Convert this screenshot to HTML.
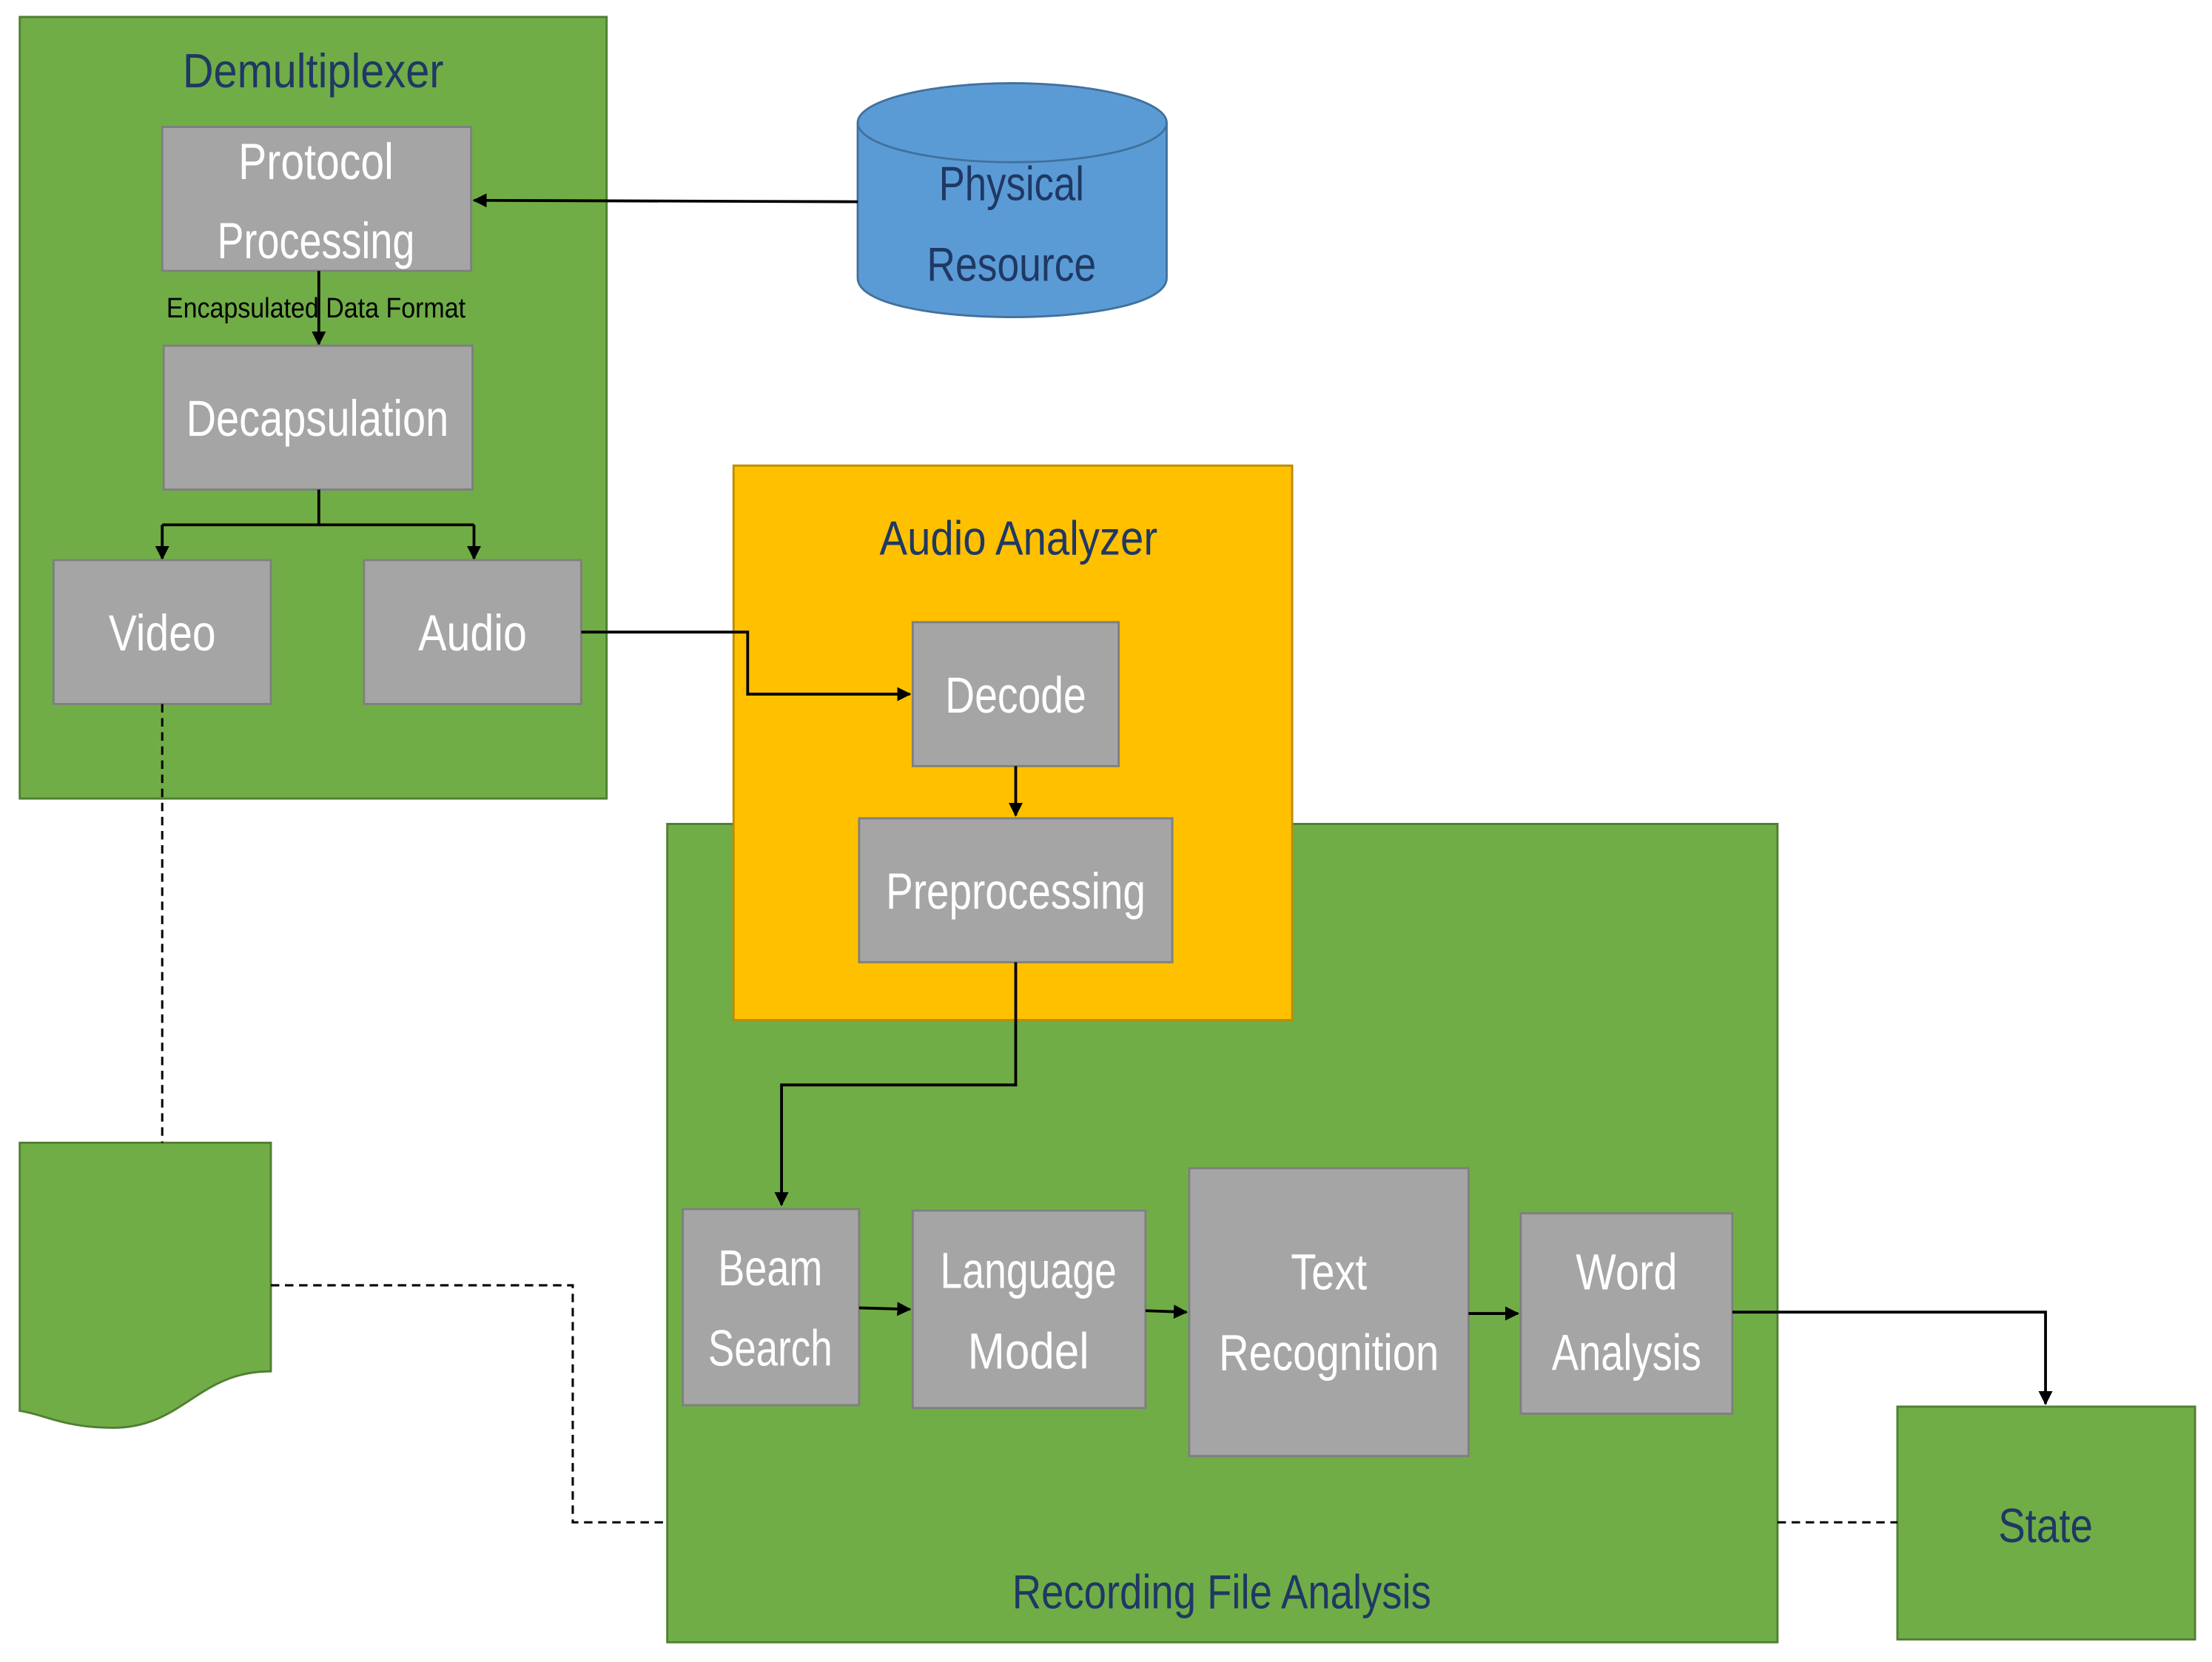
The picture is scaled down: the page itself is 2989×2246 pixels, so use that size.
<!DOCTYPE html>
<html><head><meta charset="utf-8"><style>
html,body{margin:0;padding:0;background:#fff;width:2989px;height:2246px;overflow:hidden}
svg{display:block}
text{font-family:"Liberation Sans Narrow","Liberation Sans",sans-serif}
.g{fill:#70ad47;stroke:#507e32;stroke-width:1.5}
.b{fill:#a5a5a5;stroke:#7f7f7f;stroke-width:1.5}
.w{fill:#fff;font-size:36px;text-anchor:middle}
.n{fill:#1f3864;font-size:34px;text-anchor:middle}
.l{stroke:#000;stroke-width:2;fill:none}
.d{stroke:#000;stroke-width:1.6;fill:none;stroke-dasharray:6,4}
</style></head><body>
<svg width="2989" height="2246" viewBox="0 0 1568 1178" preserveAspectRatio="none">
<defs><marker id="a" markerWidth="10" markerHeight="10" refX="9" refY="5" orient="auto" markerUnits="userSpaceOnUse"><path d="M0,0 L10,5 L0,10 z" fill="#000"/></marker></defs>
<rect class="g" x="14" y="12" width="416" height="554"/>
<text class="n" x="222" y="62" textLength="185" lengthAdjust="spacingAndGlyphs">Demultiplexer</text>
<rect class="b" x="115" y="90" width="219" height="102"/>
<text class="w" x="224" y="127" textLength="110" lengthAdjust="spacingAndGlyphs">Protocol</text>
<text class="w" x="224" y="183" textLength="140" lengthAdjust="spacingAndGlyphs">Processing</text>
<line class="l" x1="226" y1="192" x2="226" y2="244" marker-end="url(#a)"/>
<text x="224" y="225" font-size="20" text-anchor="middle" fill="#000" textLength="212" lengthAdjust="spacingAndGlyphs">Encapsulated Data Format</text>
<rect class="b" x="116" y="245" width="219" height="102"/>
<text class="w" x="225" y="309" textLength="186" lengthAdjust="spacingAndGlyphs">Decapsulation</text>
<path class="l" d="M226,347 V372 M115,372 H336"/>
<line class="l" x1="115" y1="372" x2="115" y2="396" marker-end="url(#a)"/>
<line class="l" x1="336" y1="372" x2="336" y2="396" marker-end="url(#a)"/>
<rect class="b" x="38" y="397" width="154" height="102"/>
<text class="w" x="115" y="461" textLength="76" lengthAdjust="spacingAndGlyphs">Video</text>
<rect class="b" x="258" y="397" width="154" height="102"/>
<text class="w" x="335" y="461" textLength="77" lengthAdjust="spacingAndGlyphs">Audio</text>
<path d="M608,87 V197 C608,234 827,234 827,197 V87" fill="#5b9bd5" stroke="#41719c" stroke-width="1.5"/>
<ellipse cx="717.5" cy="87" rx="109.5" ry="28" fill="#5b9bd5" stroke="#41719c" stroke-width="1.5"/>
<text class="n" x="717" y="142" font-size="36" textLength="103" lengthAdjust="spacingAndGlyphs">Physical</text>
<text class="n" x="717" y="199" font-size="36" textLength="120" lengthAdjust="spacingAndGlyphs">Resource</text>
<line class="l" x1="608" y1="143" x2="336" y2="142" marker-end="url(#a)"/>
<rect class="g" x="473" y="584" width="787" height="580"/>
<rect x="520" y="330" width="396" height="393" fill="#ffc000" stroke="#bc8c00" stroke-width="1.5"/>
<text class="n" x="722" y="393" textLength="197" lengthAdjust="spacingAndGlyphs">Audio Analyzer</text>
<rect class="b" x="647" y="441" width="146" height="102"/>
<text class="w" x="720" y="505" textLength="100" lengthAdjust="spacingAndGlyphs">Decode</text>
<rect class="b" x="609" y="580" width="222" height="102"/>
<text class="w" x="720" y="644" textLength="184" lengthAdjust="spacingAndGlyphs">Preprocessing</text>
<path class="l" d="M412,448 H530 V492 H645" marker-end="url(#a)"/>
<line class="l" x1="720" y1="543" x2="720" y2="578" marker-end="url(#a)"/>
<path class="l" d="M720,682 V769 H554 V854" marker-end="url(#a)"/>
<text class="n" x="866" y="1140" textLength="297" lengthAdjust="spacingAndGlyphs">Recording File Analysis</text>
<rect class="b" x="484" y="857" width="125" height="139"/>
<text class="w" x="546" y="911" textLength="74" lengthAdjust="spacingAndGlyphs">Beam</text>
<text class="w" x="546" y="968" textLength="88" lengthAdjust="spacingAndGlyphs">Search</text>
<rect class="b" x="647" y="858" width="165" height="140"/>
<text class="w" x="729" y="913" textLength="125" lengthAdjust="spacingAndGlyphs">Language</text>
<text class="w" x="729" y="970" textLength="86" lengthAdjust="spacingAndGlyphs">Model</text>
<rect class="b" x="843" y="828" width="198" height="204"/>
<text class="w" x="942" y="914" textLength="54" lengthAdjust="spacingAndGlyphs">Text</text>
<text class="w" x="942" y="971" textLength="156" lengthAdjust="spacingAndGlyphs">Recognition</text>
<rect class="b" x="1078" y="860" width="150" height="142"/>
<text class="w" x="1153" y="914" textLength="72" lengthAdjust="spacingAndGlyphs">Word</text>
<text class="w" x="1153" y="971" textLength="106" lengthAdjust="spacingAndGlyphs">Analysis</text>
<line class="l" x1="609" y1="927" x2="645" y2="928" marker-end="url(#a)"/>
<line class="l" x1="812" y1="929" x2="841" y2="930" marker-end="url(#a)"/>
<line class="l" x1="1041" y1="931" x2="1076" y2="931" marker-end="url(#a)"/>
<path class="l" d="M1228,930 H1450 V995" marker-end="url(#a)"/>
<rect class="g" x="1345" y="997" width="211" height="165"/>
<text class="n" x="1450" y="1093" font-size="36" textLength="67" lengthAdjust="spacingAndGlyphs">State</text>
<path class="g" d="M14,810 H192 V972 C140,972 130,1012 80,1012 C45,1012 30,1002 14,1000 Z" fill-rule="evenodd"/>
<line class="d" x1="115" y1="499" x2="115" y2="810"/>
<path class="d" d="M192,911 H406 V1079 H473"/>
<line class="d" x1="1260" y1="1079" x2="1345" y2="1079"/>
</svg>
</body></html>
